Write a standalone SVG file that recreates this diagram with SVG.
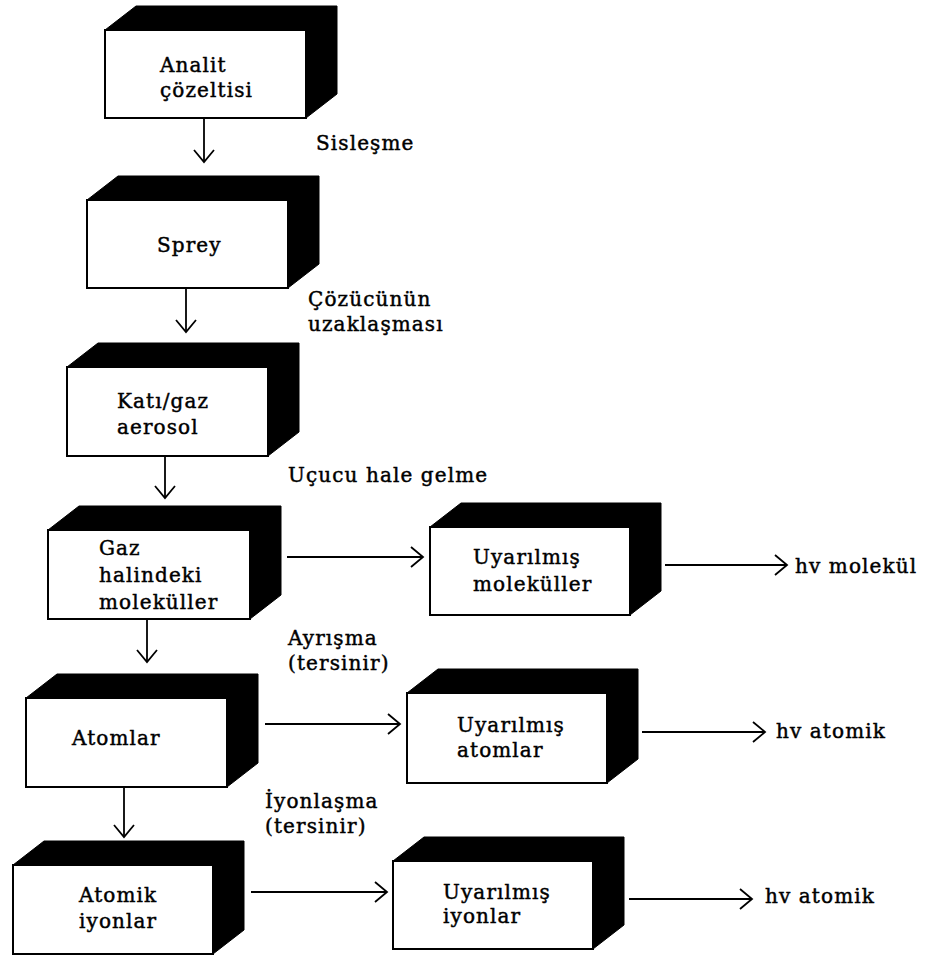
<svg xmlns="http://www.w3.org/2000/svg" width="932" height="958" viewBox="0 0 932 958">
<style>
text{font-family:"DejaVu Serif","Liberation Serif",serif;font-size:20px;letter-spacing:1.1px;fill:#000;stroke:#000;stroke-width:0.45px}
.face{fill:#fff;stroke:#000;stroke-width:2}
.shade{fill:#000;stroke:#000;stroke-width:1}
.ln{stroke:#000;stroke-width:1.8;fill:none}
</style>
<defs>
<marker id="ah" markerUnits="userSpaceOnUse" markerWidth="30" markerHeight="30" viewBox="-15 -15 30 30" refX="0" refY="0" orient="auto">
<path d="M-12,-10 L0,0 L-12,10" fill="none" stroke="#000" stroke-width="1.8"/>
</marker>
</defs>
<rect width="932" height="958" fill="#fff"/>
<g id="connectors">
<line class="ln" x1="204" y1="118" x2="204" y2="162" marker-end="url(#ah)"/>
<line class="ln" x1="186" y1="288" x2="186" y2="332" marker-end="url(#ah)"/>
<line class="ln" x1="165" y1="456" x2="165" y2="498" marker-end="url(#ah)"/>
<line class="ln" x1="147" y1="619" x2="147" y2="662" marker-end="url(#ah)"/>
<line class="ln" x1="124" y1="787" x2="124" y2="837" marker-end="url(#ah)"/>
<line class="ln" x1="287" y1="557" x2="423" y2="557" marker-end="url(#ah)"/>
<line class="ln" x1="665" y1="565" x2="787" y2="565" marker-end="url(#ah)"/>
<line class="ln" x1="265" y1="724" x2="400" y2="724" marker-end="url(#ah)"/>
<line class="ln" x1="642" y1="732" x2="765" y2="732" marker-end="url(#ah)"/>
<line class="ln" x1="251" y1="892" x2="387" y2="892" marker-end="url(#ah)"/>
<line class="ln" x1="629" y1="899" x2="752" y2="899" marker-end="url(#ah)"/>
<text x="316" y="150">Sisleşme</text>
<text x="308" y="306">Çözücünün</text>
<text x="308" y="331">uzaklaşması</text>
<text x="288" y="482">Uçucu hale gelme</text>
<text x="288" y="645">Ayrışma</text>
<text x="288" y="670">(tersinir)</text>
<text x="265" y="808">İyonlaşma</text>
<text x="265" y="833">(tersinir)</text>
<text x="795" y="573">hv molekül</text>
<text x="776" y="738">hv atomik</text>
<text x="765" y="903">hv atomik</text>
</g>
<g id="n1">
<polygon class="shade" points="105,30 136,6 337,6 337,94 306,118 306,30"/>
<rect class="face" x="105" y="30" width="201" height="88"/>
<text x="160" y="72">Analit</text>
<text x="160" y="97">çözeltisi</text>
</g>
<g id="n2">
<polygon class="shade" points="87,200 118,176 319,176 319,264 288,288 288,200"/>
<rect class="face" x="87" y="200" width="201" height="88"/>
<text x="157" y="252">Sprey</text>
</g>
<g id="n3">
<polygon class="shade" points="67,367 98,343 299,343 299,432 268,456 268,367"/>
<rect class="face" x="67" y="367" width="201" height="89"/>
<text x="117" y="408">Katı/gaz</text>
<text x="117" y="434">aerosol</text>
</g>
<g id="n4">
<polygon class="shade" points="48,530 79,506 281,506 281,595 250,619 250,530"/>
<rect class="face" x="48" y="530" width="202" height="89"/>
<text x="99" y="555">Gaz</text>
<text x="99" y="582">halindeki</text>
<text x="99" y="609">moleküller</text>
</g>
<g id="n5">
<polygon class="shade" points="430,527 461,503 661,503 661,591 630,615 630,527"/>
<rect class="face" x="430" y="527" width="200" height="88"/>
<text x="473" y="564">Uyarılmış</text>
<text x="473" y="591">moleküller</text>
</g>
<g id="n6">
<polygon class="shade" points="26,698 57,674 258,674 258,763 227,787 227,698"/>
<rect class="face" x="26" y="698" width="201" height="89"/>
<text x="72" y="745">Atomlar</text>
</g>
<g id="n7">
<polygon class="shade" points="13,865 44,841 244,841 244,930 213,954 213,865"/>
<rect class="face" x="13" y="865" width="200" height="89"/>
<text x="79" y="902">Atomik</text>
<text x="79" y="928">iyonlar</text>
</g>
<g id="n8">
<polygon class="shade" points="407,693 438,669 638,669 638,759 607,783 607,693"/>
<rect class="face" x="407" y="693" width="200" height="90"/>
<text x="457" y="732">Uyarılmış</text>
<text x="457" y="757">atomlar</text>
</g>
<g id="n9">
<polygon class="shade" points="393,861 424,837 624,837 624,925 593,949 593,861"/>
<rect class="face" x="393" y="861" width="200" height="88"/>
<text x="443" y="899">Uyarılmış</text>
<text x="443" y="923">iyonlar</text>
</g>
</svg>
